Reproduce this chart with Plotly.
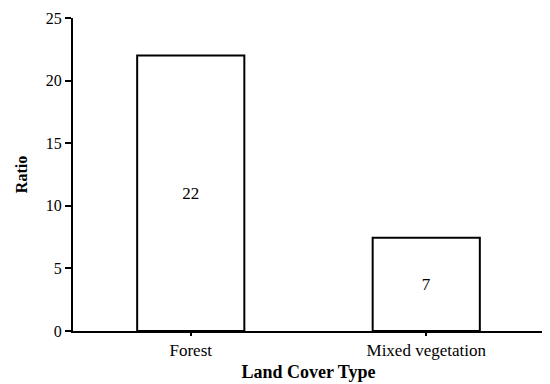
import plotly.graph_objects as go

categories = ["Forest", "Mixed vegetation"]
values = [22, 7.45]
labels = ["22", "7"]

SERIF = "Liberation Serif, Times New Roman, DejaVu Serif, serif"

fig = go.Figure(go.Bar(
    x=categories, y=values, text=labels,
    textposition="inside", insidetextanchor="middle",
    textfont=dict(family=SERIF, size=17, color="black"),
    marker=dict(color="white", line=dict(color="black", width=2)),
    width=0.455,
))

fig.update_layout(
    width=542, height=376,
    margin=dict(l=65, r=6, t=10, b=53, autoexpand=False),
    paper_bgcolor="white", plot_bgcolor="white",
    font=dict(family=SERIF, size=16, color="black"),
    showlegend=False,
    xaxis=dict(
        showline=True, linecolor="black", linewidth=2,
        ticks="outside", ticklen=3, tickwidth=2, tickcolor="black",
        range=[-0.5, 1.5], automargin=False,
        title=dict(text="<b>Land Cover Type</b>", font=dict(family=SERIF, size=18), standoff=6),
        tickfont=dict(family=SERIF, size=17),
    ),
    yaxis=dict(
        range=[0, 25], tickvals=[0, 5, 10, 15, 20, 25],
        showline=True, linecolor="black", linewidth=2,
        ticks="outside", ticklen=6, tickwidth=2, tickcolor="black",
        showgrid=False, zeroline=False, automargin=False,
        ticklabeloverflow="allow",
        title=dict(text="<b>Ratio</b>", font=dict(family=SERIF, size=16), standoff=14),
        tickfont=dict(family=SERIF, size=16),
    ),
)

fig.write_html("out.html")
